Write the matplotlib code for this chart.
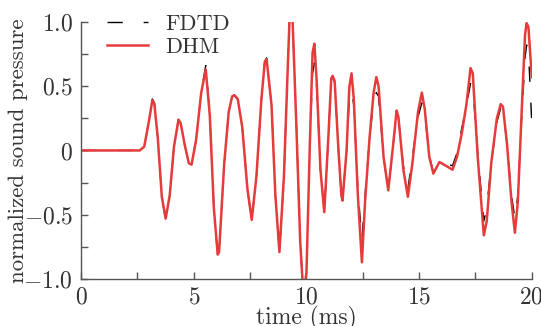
import matplotlib
matplotlib.use('Agg')
import matplotlib.pyplot as plt
from matplotlib.ticker import MultipleLocator

# time axis (ms) and the two simulated pressure traces
time_ms = [0.0, 2.6, 2.8, 3.0, 3.16, 3.25, 3.4, 3.58, 3.75, 3.93,
           4.12, 4.32, 4.42, 4.6, 4.78, 4.9, 5.1, 5.33, 5.53, 5.71,
           5.89, 6.06, 6.12, 6.35, 6.55, 6.7, 6.8, 6.95, 7.15, 7.38,
           7.57, 7.78, 8.0, 8.15, 8.23, 8.45, 8.62, 8.8, 9.0, 9.15,
           9.25, 9.38, 9.55, 9.72, 9.86, 10.0, 10.15, 10.27, 10.35, 10.45,
           10.62, 10.79, 10.97, 11.1, 11.16, 11.25, 11.42, 11.55, 11.6, 11.78,
           11.9, 12.0, 12.1, 12.28, 12.46, 12.6, 12.8, 12.98, 13.1, 13.2,
           13.42, 13.63, 13.85, 14.0, 14.08, 14.3, 14.5, 14.7, 14.95, 15.12,
           15.25, 15.45, 15.63, 15.9, 16.2, 16.48, 16.68, 16.9, 17.1, 17.28,
           17.38, 17.6, 17.87, 18.0, 18.2, 18.45, 18.62, 18.72, 18.9, 19.1,
           19.25, 19.38, 19.55, 19.7, 19.77, 19.85, 20.0]

dhm = [0.0, 0.0, 0.03, 0.22, 0.39, 0.36, 0.10, -0.36, -0.53, -0.35,
       0.03, 0.24, 0.21, 0.04, -0.10, -0.11, 0.08, 0.45, 0.63, 0.27,
       -0.45, -0.81, -0.79, -0.10, 0.30, 0.42, 0.43, 0.40, 0.18, -0.30,
       -0.54, -0.20, 0.40, 0.69, 0.71, 0.35, -0.35, -0.79, -0.20, 0.55,
       1.03, 1.03, 0.20, -0.70, -1.12, -0.95, 0.05, 0.76, 0.83, 0.55,
       -0.15, -0.48, 0.10, 0.56, 0.58, 0.54, 0.00, -0.35, -0.39, 0.00,
       0.49, 0.60, 0.40, -0.35, -0.87, -0.40, 0.10, 0.45, 0.57, 0.50,
       -0.05, -0.31, 0.05, 0.31, 0.26, -0.15, -0.36, -0.10, 0.30, 0.45,
       0.32, -0.05, -0.18, -0.09, -0.12, -0.15, -0.05, 0.14, 0.36, 0.64,
       0.60, -0.05, -0.66, -0.55, -0.10, 0.25, 0.36, 0.34, 0.05, -0.40,
       -0.64, -0.40, 0.30, 0.90, 0.99, 0.96, 0.57]

fdtd = [0.0, 0.0, 0.03, 0.22, 0.40, 0.37, 0.10, -0.36, -0.54, -0.35,
        0.03, 0.24, 0.21, 0.04, -0.10, -0.11, 0.08, 0.46, 0.66, 0.28,
        -0.45, -0.82, -0.80, -0.10, 0.30, 0.42, 0.43, 0.40, 0.18, -0.30,
        -0.55, -0.20, 0.40, 0.69, 0.72, 0.35, -0.35, -0.80, -0.20, 0.55,
        1.03, 1.02, 0.20, -0.70, -1.12, -0.95, 0.05, 0.60, 0.68, 0.50,
        -0.15, -0.48, 0.10, 0.55, 0.57, 0.53, 0.00, -0.35, -0.38, 0.00,
        0.40, 0.47, 0.35, -0.30, -0.70, -0.35, 0.10, 0.38, 0.45, 0.42,
        -0.05, -0.31, 0.05, 0.28, 0.25, -0.12, -0.30, -0.05, 0.26, 0.37,
        0.28, -0.04, -0.17, -0.09, -0.10, -0.12, -0.02, 0.18, 0.35, 0.52,
        0.50, -0.02, -0.55, -0.45, -0.10, 0.22, 0.33, 0.33, 0.05, -0.35,
        -0.53, -0.35, 0.25, 0.72, 0.82, 0.78, 0.21]

y_ticks = [-1.0, -0.5, 0.0, 0.5, 1.0]
y_labels = [r'$-1.0$', r'$-0.5$', r'$0$', r'$0.5$', r'$1.0$']
x_ticks = [0, 5, 10, 15, 20]
x_labels = [r'$0$', r'$5$', r'$10$', r'$15$', r'$20$']

plt.rcParams['font.family'] = 'serif'
plt.rcParams['font.serif'] = ['cmr10']
plt.rcParams['mathtext.fontset'] = 'cm'
plt.rcParams['axes.formatter.use_mathtext'] = True

text_col = '#333333'
axis_col = '#555555'

fig = plt.figure(figsize=(5.41, 3.26), dpi=100)
ax = fig.add_axes([0.15, 0.144, 0.833, 0.789])

ax.plot(time_ms, fdtd, color='black', lw=1.0, dashes=(11, 15), label='FDTD')
ax.plot(time_ms, dhm, color='#e63b3b', lw=1.8, label='DHM')

ax.set_xlim(0, 20)
ax.set_ylim(-1, 1)
ax.set_xticks(x_ticks)
ax.set_xticklabels(x_labels)
ax.set_yticks(y_ticks)
ax.set_yticklabels(y_labels)
ax.xaxis.set_minor_locator(MultipleLocator(2.5))
ax.yaxis.set_minor_locator(MultipleLocator(0.25))

for side in ['top', 'right']:
    ax.spines[side].set_visible(False)
for side in ['left', 'bottom']:
    ax.spines[side].set_color(axis_col)
    ax.spines[side].set_linewidth(1.0)

ax.tick_params(which='both', direction='in', length=5, width=1.0,
               color=axis_col, labelcolor=text_col, labelsize=17)
ax.tick_params(axis='y', pad=6)
ax.tick_params(axis='x', pad=5)

ax.set_xlabel('time (ms)', fontsize=17, color=text_col)
ax.xaxis.set_label_coords(0.5, -0.106)
ax.set_ylabel('normalized sound pressure', fontsize=16.5, color=text_col)
ax.yaxis.set_label_coords(-0.118, 0.5)

leg = ax.legend(loc='upper left', bbox_to_anchor=(0.058, 1.03), frameon=False,
                fontsize=16, handlelength=1.85, handletextpad=0.75,
                labelspacing=0.15, borderaxespad=0, borderpad=0)
for t in leg.get_texts():
    t.set_color(text_col)

fig.savefig('out.png', dpi=100)
